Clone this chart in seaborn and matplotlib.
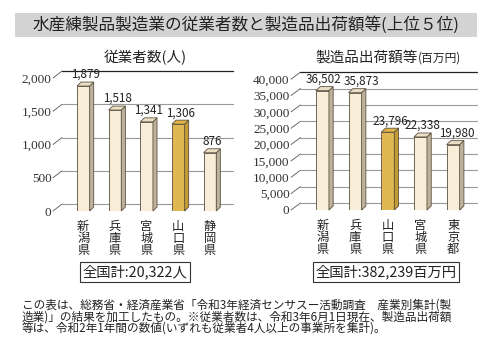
import matplotlib
matplotlib.use('Agg')
import matplotlib.pyplot as plt
from matplotlib.patches import Polygon, Rectangle
import seaborn as sns

# データ
left_pref = ['新潟県', '兵庫県', '宮城県', '山口県', '静岡県']
left_vals = [1879, 1518, 1341, 1306, 876]
left_ticks = [0, 500, 1000, 1500, 2000]

right_pref = ['新潟県', '兵庫県', '山口県', '宮城県', '東京都']
right_vals = [36502, 35873, 23796, 22338, 19980]
right_ticks = [0, 5000, 10000, 15000, 20000, 25000, 30000, 35000, 40000]

highlight = '山口県'

sns.set_theme(style='white')
plt.rcParams['font.family'] = ['Noto Sans CJK JP', 'DejaVu Sans']

fig = plt.figure(figsize=(5, 3.52), dpi=100)
fig.patch.set_facecolor('white')

CREAM, CREAM_SIDE, CREAM_TOP = '#FDEFD2', '#BDB39B', '#EADFC4'
GOLD, GOLD_SIDE, GOLD_TOP = '#F7C23C', '#C49B32', '#E3B443'


def panel(rect, cats, vals, ticks, ylim_top, px_per_unit_x, data_per_px, nudge_px):
    ax = fig.add_axes(rect)
    pal = [GOLD if c == highlight else CREAM for c in cats]
    sns.barplot(x=cats, y=vals, hue=cats, palette=pal, width=0.4,
                edgecolor='#5a5040', linewidth=0.6, legend=False, ax=ax, zorder=3)
    n = len(cats)
    x0 = -0.5 - 16 / px_per_unit_x
    x1 = n - 0.5 + 8 / px_per_unit_x
    ax.set_xlim(x0, x1)
    ax.set_ylim(0, ylim_top)

    # 3D風の側面と上面
    ddx = 4.5 / px_per_unit_x
    ddy = 4 * data_per_px
    for p, c in zip(ax.patches, cats):
        bx, bw, bh = p.get_x(), p.get_width(), p.get_height()
        side = GOLD_SIDE if c == highlight else CREAM_SIDE
        top = GOLD_TOP if c == highlight else CREAM_TOP
        ax.add_patch(Polygon([(bx + bw, 0), (bx + bw + ddx, ddy), (bx + bw + ddx, bh + ddy), (bx + bw, bh)],
                             closed=True, fc=side, ec='#5a5040', lw=0.6, zorder=3, clip_on=False))
        ax.add_patch(Polygon([(bx, bh), (bx + ddx, bh + ddy), (bx + bw + ddx, bh + ddy), (bx + bw, bh)],
                             closed=True, fc=top, ec='#5a5040', lw=0.6, zorder=3, clip_on=False))

    # 奥の目盛線
    gdx = 10 / px_per_unit_x
    gdy = 7 * data_per_px
    for t in ticks:
        col = '#222222' if t == ticks[-1] else '#999999'
        lw = 0.9 if t == ticks[-1] else 0.8
        ax.plot([x0, x0 + gdx], [t, t + gdy], color='#555555', lw=0.6, zorder=1, clip_on=False)
        ax.plot([x0 + gdx, x1], [t + gdy, t + gdy], color=col, lw=lw, zorder=1, clip_on=False)

    # 数値ラベル
    for i, v in enumerate(vals):
        ax.text(i + ddx / 2 + nudge_px[i] / px_per_unit_x, v + ddy + 1 * data_per_px, f'{v:,}',
                ha='center', va='bottom', fontsize=8.4, color='#222222', zorder=5)

    ax.set_yticks(ticks)
    ax.set_yticklabels([f'{t:,}' for t in ticks], family=['Liberation Serif', 'DejaVu Serif'],
                       fontsize=9.5, color='#333333')
    ax.set_xticks(range(n))
    ax.set_xticklabels(['\n'.join(c) for c in cats], fontsize=8.8, linespacing=0.92,
                       color='#222222', va='top')
    ax.tick_params(axis='both', length=0)
    ax.tick_params(axis='y', pad=1)
    ax.tick_params(axis='x', pad=6.5)
    ax.set_xlabel('')
    ax.set_ylabel('')
    ax.grid(False)
    for s in ax.spines.values():
        s.set_visible(False)
    ax.patch.set_alpha(0)
    return ax


W, H = 500, 352
# 左: 従業者数
panel([53 / W, (H - 211) / H, 180 / W, 149 / H], left_pref, left_vals, left_ticks,
      149 * 15.04, 35.0, 15.04, [0, 0, 0, 0, 0])
# 右: 製造品出荷額等
panel([291 / W, (H - 210) / H, 186 / W, 148 / H], right_pref, right_vals, right_ticks,
      148 * 305.8, 34.7, 305.8, [-1, 4, 0, 0, 2])

# タイトル
fig.patches.append(Rectangle((15 / W, (H - 37) / H), 462 / W, 24 / H, transform=fig.transFigure,
                             fc='#d3d3d3', ec='none', zorder=0))
fig.text(246 / W, 1 - 25 / H, '水産練製品製造業の従業者数と製造品出荷額等(上位５位)',
         ha='center', va='center', fontsize=12, color='#222222')

fig.text(145 / W, 1 - 58 / H, '従業者数(人)', ha='center', va='center', fontsize=10.5, color='#222222')
fig.text(418 / W, 1 - 58 / H, '製造品出荷額等', ha='right', va='center', fontsize=10.5, color='#222222')
fig.text(418 / W, 1 - 58 / H, '(百万円)', ha='left', va='center', fontsize=8.5, color='#222222')

# 全国計
box = dict(boxstyle='square,pad=0.2', fc='white', ec='#333333', lw=0.8)
fig.text(135 / W, 1 - 272 / H, '全国計:20,322人', ha='center', va='center', fontsize=10.3,
         color='#222222', bbox=box)
fig.text(386 / W, 1 - 272 / H, '全国計:382,239百万円', ha='center', va='center', fontsize=10.3,
         color='#222222', bbox=box)

# 注記
notes = ['この表は、総務省・経済産業省「令和3年経済センサスー活動調査　産業別集計(製',
         '造業)」の結果を加工したもの。※従業者数は、令和3年6月1日現在、製造品出荷額',
         '等は、令和2年1年間の数値(いずれも従業者4人以上の事業所を集計)。']
for i, line in enumerate(notes):
    fig.text(22 / W, 1 - (305 + 11.7 * i) / H, line, ha='left', va='center', fontsize=8.4,
             color='#222222')

fig.savefig('out.png', dpi=100)
